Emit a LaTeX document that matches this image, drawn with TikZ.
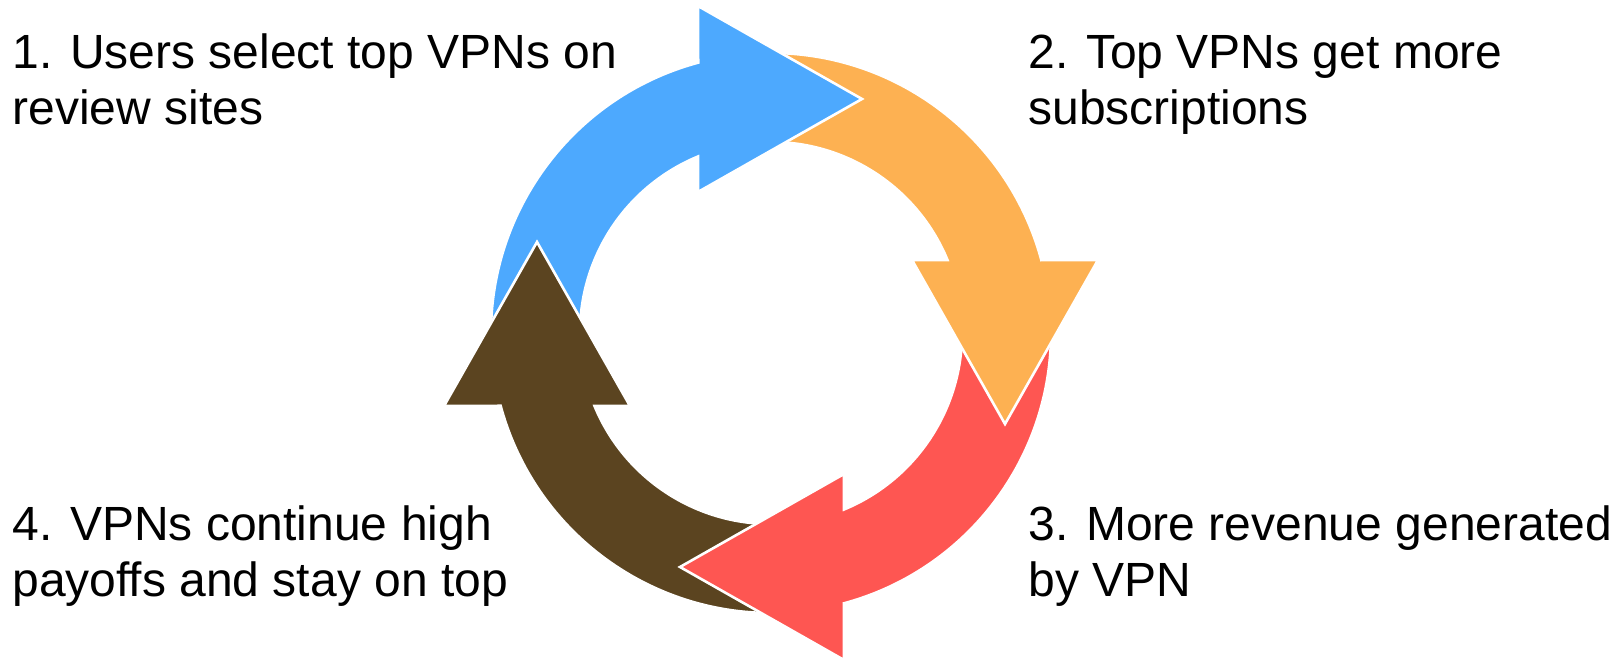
\documentclass[tikz,border=0pt]{standalone}
\usepackage{fontspec}
\setmainfont{Liberation Sans}
\definecolor{cblue}{HTML}{4DA9FE}
\definecolor{corange}{HTML}{FDB152}
\definecolor{cred}{HTML}{FE5652}
\definecolor{cbrown}{HTML}{5B4420}
\newcommand\cycarrow[2]{%
  \begin{scope}[shift={(771,325)}, rotate=#2]
    \filldraw[arrowshape, fill=#1]
      (185:280) arc[start angle=185, end angle=105.07, radius=280]
      -- (-73,327) -- (91,234) -- (-73,141)
      -- (112.47:191) arc[start angle=112.47, end angle=185, radius=191]
      -- cycle;
  \end{scope}}
\begin{document}
\begin{tikzpicture}[x=0.5pt,y=0.5pt,
  arrowshape/.style={draw=white, line width=1.3pt, line join=miter},
  lbl/.style={anchor=base west, inner sep=0pt, align=left,
    font=\fontsize{24}{28}\selectfont}]
\useasboundingbox (0,0) rectangle (1623,658);
% arrows
\cycarrow{cbrown}{90}
\cycarrow{cred}{180}
\cycarrow{corange}{-90}
\cycarrow{cblue}{0}
% brown head over blue tail
\begin{scope}
  \clip (428,238) rectangle (646,428);
  \cycarrow{cbrown}{90}
\end{scope}
% labels (anchor at baseline of last line)
\node[lbl] (t1) at (12,533) {1. Users select top VPNs on\\review sites};
\node[lbl] (t2) at (1028,533) {2. Top VPNs get more\\subscriptions};
\node[lbl] (t3) at (1028,61) {3. More revenue generated\\by VPN};
\node[lbl] (t4) at (12,61) {4. VPNs continue high\\payoffs and stay on top};
\end{tikzpicture}
\end{document}
